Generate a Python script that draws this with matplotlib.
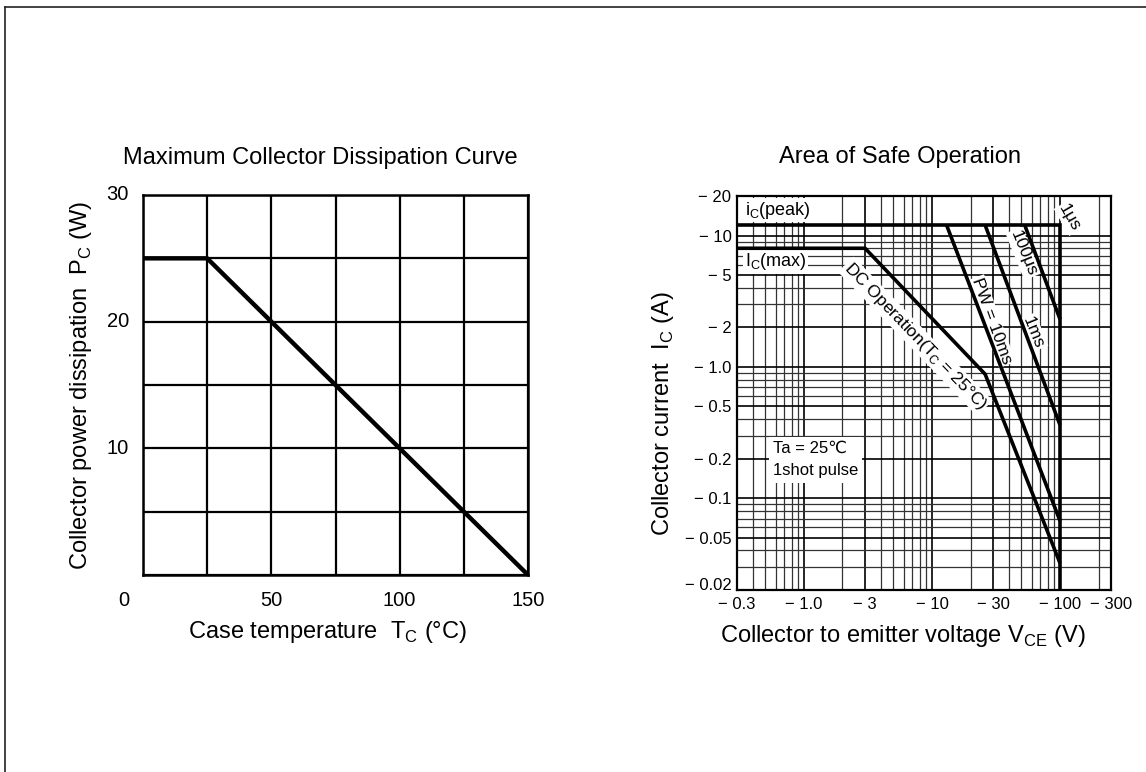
import numpy as np
import matplotlib
matplotlib.use("Agg")
import matplotlib.pyplot as plt
import matplotlib.transforms as mtransforms
from matplotlib.lines import Line2D
from matplotlib.ticker import FixedLocator, NullFormatter

plt.rcParams['font.family'] = ['Liberation Sans', 'DejaVu Sans']

# left chart: maximum collector dissipation
tc = [0, 25, 150]
pc = [25, 25, 0]
tc_ticks = [50, 100, 150]
pc_ticks = [10, 20, 30]

# right chart: area of safe operation (magnitudes, labelled negative)
dc_v = [0.3, 3, 26, 100]
dc_i = [8, 8, 0.88, 0.032]
peak_v = [0.3, 100, 100]
peak_i = [12, 12, 0.02]
pw10ms_v = [13, 100]
pw10ms_i = [12, 0.067]
pw1ms_v = [26, 100]
pw1ms_i = [12, 0.36]
pw100us_v = [53, 100]
pw100us_i = [12, 2.3]

vce_ticks = [0.3, 1, 3, 10, 30, 100, 250]
vce_labels = ['\u2212 0.3', '\u2212 1.0', '\u2212 3', '\u2212 10', '\u2212 30', '\u2212 100', '\u2212 300']
ic_ticks = [20, 10, 5, 2, 1, 0.5, 0.2, 0.1, 0.05, 0.02]
ic_labels = ['\u2212 20', '\u2212 10', '\u2212 5', '\u2212 2', '\u2212 1.0', '\u2212 0.5',
             '\u2212 0.2', '\u2212 0.1', '\u2212 0.05', '\u2212 0.02']

fig = plt.figure(figsize=(11.46, 7.72), dpi=100)

# scan border (top and left only)
fig.add_artist(Line2D([5/1146, 1], [1-7/772, 1-7/772], color='#222222', lw=1.2))
fig.add_artist(Line2D([5/1146, 5/1146], [0, 1-7/772], color='#222222', lw=1.2))

# ---------- left ----------
ax1 = fig.add_axes([143/1146, 1-575/772, 385/1146, 380/772])
ax1.set_xlim(0, 150)
ax1.set_ylim(0, 30)
ax1.set_xticks(np.arange(0, 151, 25))
ax1.set_yticks(np.arange(0, 31, 5))
ax1.grid(True, color='black', lw=1.6)
ax1.set_xticklabels([])
ax1.set_yticklabels([])
ax1.tick_params(length=0)
for s in ax1.spines.values():
    s.set_linewidth(1.8)
ax1.plot(tc, pc, color='black', lw=3.2, solid_capstyle='butt', zorder=5)
for t in tc_ticks:
    ax1.text(t, -1.3, str(t), ha='center', va='top', fontsize=14.5)
for p in pc_ticks:
    ax1.text(-5.5, p, str(p), ha='right', va='center', fontsize=14.5)
ax1.text(-5.5, -1.3, '0', ha='right', va='top', fontsize=14.5)
ax1.set_title('Maximum Collector Dissipation Curve', fontsize=17, pad=22, x=0.46)
ax1.set_xlabel('Case temperature  T$_\\mathregular{C}$ (\u00b0C)', fontsize=17, labelpad=28, x=0.48)
ax1.set_ylabel('Collector power dissipation  P$_\\mathregular{C}$ (W)', fontsize=17, labelpad=32)

# ---------- right ----------
ax2 = fig.add_axes([737/1146, 1-590/772, 374/1146, 394/772])
ax2.set_xscale('log')
ax2.set_yscale('log')
ax2.set_xlim(0.3, 250)
ax2.set_ylim(0.02, 20)
ax2.xaxis.set_major_locator(FixedLocator(vce_ticks))
ax2.set_xticklabels(vce_labels)
ax2.yaxis.set_major_locator(FixedLocator(ic_ticks))
ax2.set_yticklabels(ic_labels)
xgrid = [0.4, 0.5, 0.6, 0.7, 0.8, 0.9, 2, 4, 5, 6, 7, 8, 9,
         20, 40, 50, 60, 70, 80, 90, 200]
ygrid = [0.03, 0.04, 0.06, 0.07, 0.08, 0.09, 0.3, 0.4, 0.6, 0.7, 0.8, 0.9,
         3, 4, 6, 7, 8, 9]
ax2.xaxis.set_minor_locator(FixedLocator(xgrid))
ax2.yaxis.set_minor_locator(FixedLocator(ygrid))
ax2.xaxis.set_minor_formatter(NullFormatter())
ax2.yaxis.set_minor_formatter(NullFormatter())
ax2.grid(True, which='major', color='black', lw=1.2)
ax2.grid(True, which='minor', color='#333333', lw=0.9)
ax2.tick_params(which='both', length=0, labelsize=12)
ax2.tick_params(axis='x', pad=5)
ax2.tick_params(axis='y', pad=4)
for s in ax2.spines.values():
    s.set_linewidth(1.6)
# lift the bottom y label clear of the first x label, as in the scan
lab = ax2.get_yticklabels()[-1]
lab.set_transform(lab.get_transform() + mtransforms.ScaledTranslation(0, 4/72, fig.dpi_scale_trans))

lk = dict(color='black', lw=2.6, solid_capstyle='butt', solid_joinstyle='miter', zorder=5)
ax2.plot(peak_v, peak_i, **lk)
ax2.plot(dc_v, dc_i, **lk)
ax2.plot(pw10ms_v, pw10ms_i, **lk)
ax2.plot(pw1ms_v, pw1ms_i, **lk)
ax2.plot(pw100us_v, pw100us_i, **lk)

wb = dict(facecolor='white', edgecolor='none', pad=1)
ax2.text(0.346, 15.6, 'i$_\\mathregular{C}$(peak)', ha='left', va='center', fontsize=13, bbox=wb, zorder=4)
ax2.text(0.346, 6.3, 'I$_\\mathregular{C}$(max)', ha='left', va='center', fontsize=13, bbox=wb, zorder=4)
ax2.text(7.4, 1.71, 'DC Operation(T$_\\mathregular{C}$ = 25\u00b0C)', ha='center', va='center',
         rotation=-46, rotation_mode='anchor', fontsize=12.5, bbox=wb, zorder=4)
ax2.text(29.2, 2.23, 'PW = 10ms', ha='center', va='center', rotation=-70,
         rotation_mode='anchor', fontsize=12.5, bbox=wb, zorder=4)
ax2.text(62, 1.83, '1ms', ha='center', va='center', rotation=-68,
         rotation_mode='anchor', fontsize=12.5, bbox=wb, zorder=4)
ax2.text(51.5, 7.3, '100\u03bcs', ha='center', va='center', rotation=-68,
         rotation_mode='anchor', fontsize=12.5, bbox=wb, zorder=4)
ax2.text(118, 13.6, '1\u03bcs', ha='center', va='center', rotation=-60,
         rotation_mode='anchor', fontsize=12.5, bbox=wb, zorder=4)
ax2.text(0.57, 0.196, 'Ta = 25\u2103\n1shot pulse', ha='left', va='center', fontsize=12,
         linespacing=1.6, bbox=dict(facecolor='white', edgecolor='none', pad=3), zorder=4)

ax2.set_title('Area of Safe Operation', fontsize=17, pad=24, x=0.436)
ax2.set_xlabel('Collector to emitter voltage V$_\\mathregular{CE}$ (V)', fontsize=17, labelpad=8, x=0.445)
ax2.set_ylabel('Collector current  I$_\\mathregular{C}$ (A)', fontsize=17, labelpad=6, y=0.447)

fig.savefig('out.png', dpi=100)
